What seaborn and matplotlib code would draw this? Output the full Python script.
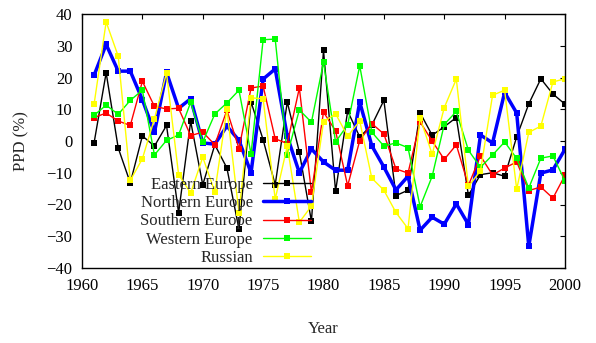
import matplotlib
matplotlib.use("Agg")
import matplotlib.pyplot as plt
import seaborn as sns
import pandas as pd

years = list(range(1961, 2001))

eastern = [-0.6, 21.5, -2.2, -13.2, 1.6, -1.6, 4.9, -22.6, 6.2, -13.8,
           -1.2, -8.5, -27.8, 12.3, 0.4, -13.8, 12.3, -3.5, -25.3, 28.6,
           -15.8, 9.4, 1.3, 5.0, 12.8, -17.2, -15.5, 8.9, 1.8, 4.5,
           7.4, -17.1, -10.6, -10.0, -11.1, 1.3, 11.7, 19.6, 14.8, 11.6]
northern = [20.7, 30.4, 22.0, 22.0, 13.0, 2.7, 21.6, 10.3, 13.3, -0.6,
            -1.0, 4.7, 0.2, -10.0, 19.5, 22.7, 1.5, -10.0, -2.5, -6.6,
            -9.2, -9.2, 12.3, -1.5, -8.2, -15.4, -11.1, -28.1, -24.0, -26.2,
            -19.8, -26.3, 1.9, -0.6, 15.3, 8.8, -33.2, -10.1, -9.1, -2.6]
southern = [7.4, 8.8, 6.3, 4.9, 18.8, 10.9, 10.1, 10.3, 1.7, 2.8,
            -1.2, 9.7, -2.4, 16.7, 17.3, 0.7, -0.8, 16.7, -16.1, 9.1,
            3.2, -14.1, 0.1, 5.5, 2.2, -8.8, -10.1, 6.0, 0.0, -5.8,
            -1.2, -14.0, -4.7, -10.7, -8.5, -6.6, -15.6, -14.5, -18.0, -10.8]
western = [8.1, 11.3, 8.4, 12.8, 16.0, -4.4, 0.2, 1.9, 12.2, -0.3,
           8.5, 12.0, 16.0, -4.1, 31.9, 32.1, -4.3, 9.8, 5.9, 24.8,
           -0.3, 5.1, 23.7, 2.8, -1.6, -0.6, -2.1, -20.7, -11.1, 5.2,
           9.3, -2.9, -8.3, -4.4, -0.3, -5.5, -14.8, -5.4, -4.7, -12.6]
russian = [11.6, 37.5, 26.7, -12.4, -5.6, 7.0, 21.4, -10.6, -16.4, -5.1,
           -16.0, 10.0, -22.6, 13.6, 13.3, -18.3, -1.6, -25.6, -20.5, 6.0,
           8.6, 1.5, 6.3, -11.7, -15.5, -22.5, -27.6, 7.3, -4.2, 10.5,
           19.5, -14.3, -9.4, 14.4, 16.0, -15.2, 2.7, 4.7, 18.6, 19.6]

series_names = ["Eastern Europe", "Northern Europe", "Southern Europe",
                "Western Europe", "Russian"]
series_values = [eastern, northern, southern, western, russian]
colors = ["#000000", "#0000ff", "#ff0000", "#00ff00", "#ffff00"]
widths = [1.0, 2.5, 1.0, 1.0, 1.0]

x_ticks = list(range(1960, 2001, 5))
y_ticks = list(range(-40, 41, 10))

sns.set_theme(style="white")
plt.rcParams["font.family"] = ["Liberation Serif", "DejaVu Serif"]
plt.rcParams["mathtext.fontset"] = "stix"

fig = plt.figure(figsize=(5.96, 3.43), dpi=100)
ax = fig.add_axes([82 / 596, 1 - 268 / 343, 483 / 596, 254 / 343])

for name, vals, c, lw in zip(series_names, series_values, colors, widths):
    df = pd.DataFrame({"Year": years, "PPD": vals})
    sns.lineplot(data=df, x="Year", y="PPD", ax=ax, color=c, linewidth=lw,
                 marker="s", markersize=4.6, markeredgewidth=0,
                 markerfacecolor=c, label=name)

ax.set_xlim(1960, 2000)
ax.set_ylim(-40, 40)
ax.set_xticks(x_ticks)
ax.set_yticks(y_ticks)
ax.tick_params(axis="both", direction="in", length=3.5, width=0.8,
               top=True, right=True, labelsize=12, colors="black")
ax.tick_params(axis="x", pad=7)
ax.tick_params(axis="y", pad=7)
for s in ax.spines.values():
    s.set_color("black")
    s.set_linewidth(1.0)

ax.set_xlabel("Year", fontsize=12)
ax.set_ylabel("PPD (%)", fontsize=12)
ax.xaxis.set_label_coords(0.5, -0.21)
ax.yaxis.set_label_coords(-0.108, 0.5)

leg = ax.legend(loc="upper right", bbox_to_anchor=(311 / 596, 1 - 177 / 343),
                bbox_transform=fig.transFigure, frameon=False, markerfirst=False,
                fontsize=12, handlelength=2.9, handletextpad=0.6,
                labelspacing=0.13, borderpad=0, borderaxespad=0)
for t in leg.get_texts():
    t.set_ha("right")

fig.savefig("out.png", dpi=100)
